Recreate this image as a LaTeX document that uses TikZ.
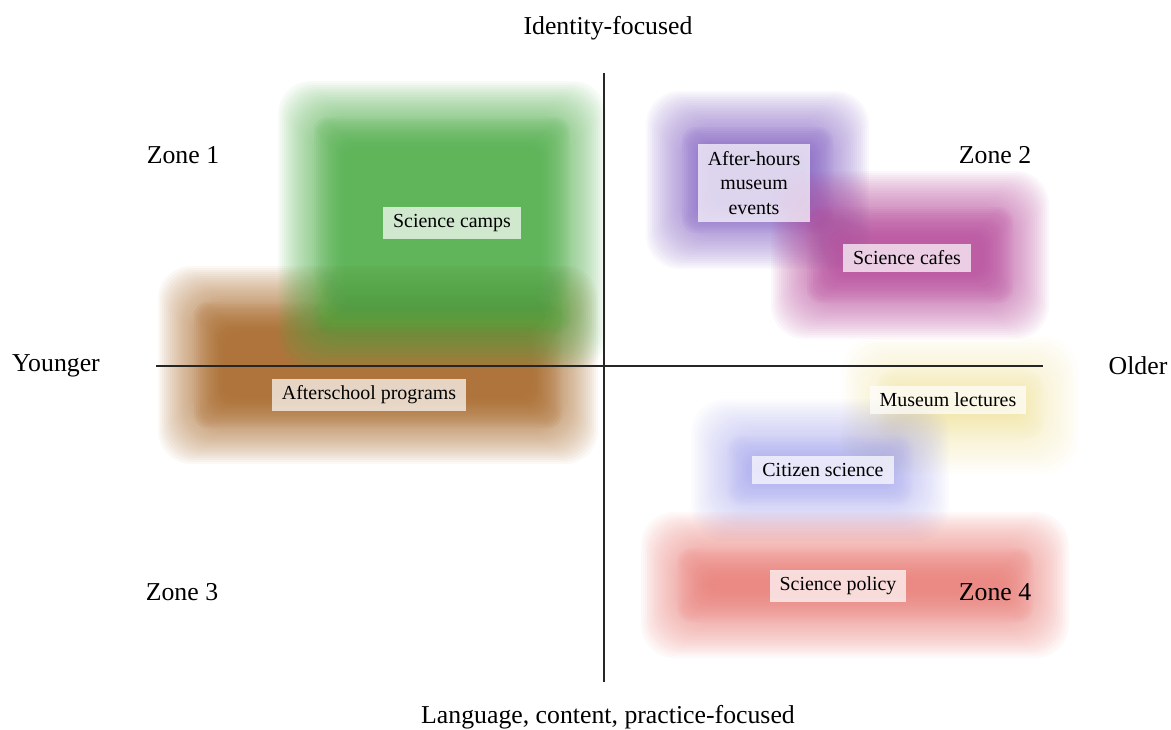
\documentclass[tikz,border=0pt]{standalone}
\usepackage{fontspec}
\setmainfont{Liberation Serif}

\definecolor{campgreen}{RGB}{76,171,70}
\definecolor{schoolbrown}{RGB}{164,99,35}
\definecolor{hourspurple}{RGB}{130,96,193}
\definecolor{cafemagenta}{RGB}{181,73,153}
\definecolor{lectureyellow}{RGB}{234,215,120}
\definecolor{citizenblue}{RGB}{150,150,234}
\definecolor{policyred}{RGB}{232,124,118}

% soft patch: stacked rounded rectangles, #1 = colour, #2 = layer opacity, #3..#6 = box
\newcommand{\softpatch}[6]{%
    \foreach \d in {-30,-28,...,0} {
        \fill[#1, fill opacity=#2, rounded corners=0.4cm] ({#3-\d},{#4-\d}) rectangle ({#5+\d},{#6+\d});
    }%
    \foreach \d in {2,4,...,36} {
        \fill[#1, fill opacity=#2/2, rounded corners=1.0cm] ({#3-\d},{#4-\d}) rectangle ({#5+\d},{#6+\d});
    }%
}

\begin{document}
\begin{tikzpicture}[
            x=0.03cm,
            y=-0.03cm,
            axislabel/.style={font=\fontsize{22}{26}\selectfont},
            axisline/.style={line width=1.4pt,draw=black!85},
            tag/.style={fill=white,fill opacity=0.7,text opacity=1,
                inner xsep=0.3cm,inner ysep=0.22cm,align=center,
                font=\fontsize{17}{21}\selectfont}
        ]
            \useasboundingbox (0,0) rectangle (1171,730);

            % coloured regions
            \softpatch{schoolbrown}{0.085}{194}{302}{562}{428}
            \softpatch{campgreen}{0.085}{314}{117}{570}{333}
            \softpatch{hourspurple}{0.085}{682}{127}{833}{233}
            \softpatch{cafemagenta}{0.085}{807}{207}{1013}{303}
            \softpatch{lectureyellow}{0.04}{877}{372}{1043}{438}
            \softpatch{citizenblue}{0.055}{727}{435}{913}{505}
            \softpatch{policyred}{0.085}{677}{548}{1033}{622}

            % axes
            \coordinate (top) at (604,73);
            \coordinate (bottom) at (604,682);
            \coordinate (left) at (156,366);
            \coordinate (right) at (1043,366);
            \draw[axisline] (top) -- (bottom);
            \draw[axisline] (left) -- (right);

            \node[axislabel] (identity) at (608,28) {Identity-focused};
            \node[axislabel] (language) at (608,717) {Language, content, practice-focused};
            \node[axislabel] (younger) at (56,366) {Younger};
            \node[axislabel] (older) at (1138,366) {Older};

            \node[axislabel] (zone1) at (183,155) {Zone 1};
            \node[axislabel] (zone2) at (995,155) {Zone 2};
            \node[axislabel] (zone3) at (182,592) {Zone 3};
            \node[axislabel] (zone4) at (995,592) {Zone 4};

            % programs
            \node[tag] (camps) at (452,223) {Science camps};
            \node[tag] (afterschool) at (369,395) {Afterschool programs};
            \node[tag] (afterhours) at (754,183) {After-hours\\museum\\events};
            \node[tag] (cafes) at (907,258) {Science cafes};
            \node[tag] (lectures) at (948,400) {Museum lectures};
            \node[tag] (citizen) at (823,470) {Citizen science};
            \node[tag] (policy) at (838,586) {Science policy};
        \end{tikzpicture}
\end{document}
